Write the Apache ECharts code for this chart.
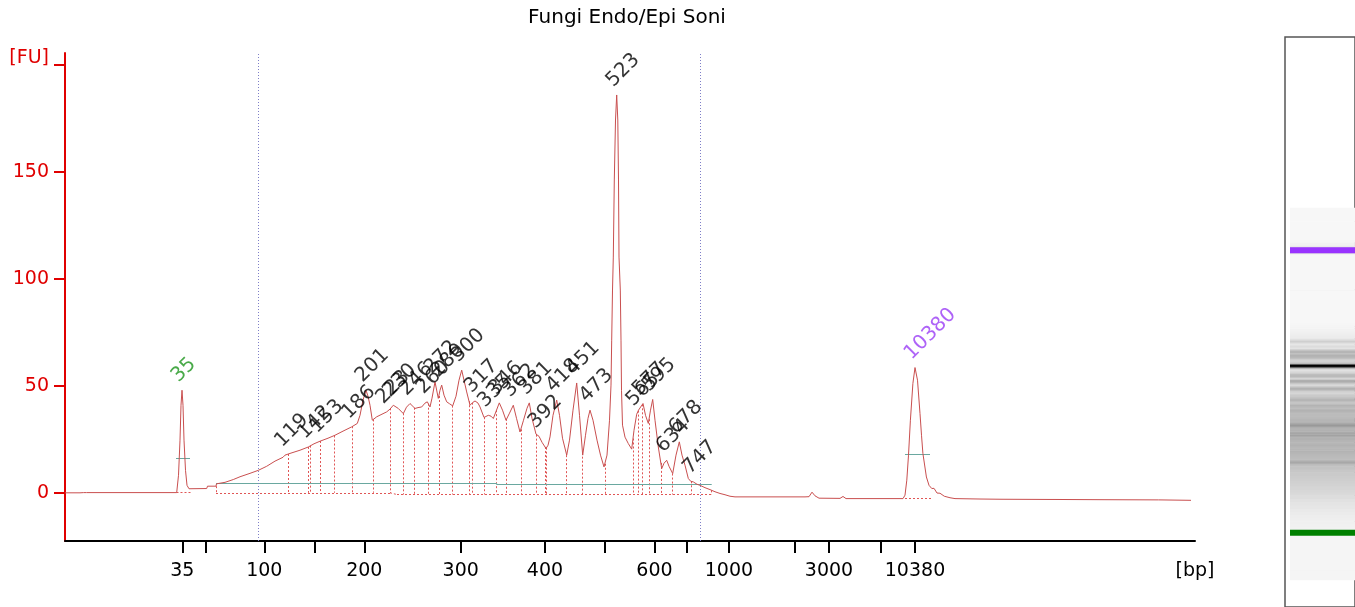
<!DOCTYPE html>
<html><head><meta charset="utf-8">
<script src="https://cdn.jsdelivr.net/npm/echarts@6/dist/echarts.min.js"></script>
<style>html,body{margin:0;padding:0;background:#fff}#c{width:1355px;height:607px}</style>
</head><body><div id="c"></div>
<script>
// ---- data (x = migration time in s, y = fluorescence units) ----
const chartTitle = 'Fungi Endo/Epi Soni';
const ladderBp   = [35, 50, 100, 150, 200, 300, 400, 500, 600, 700, 1000, 2000, 3000, 7000, 10380];
const ladderTime = [31.73, 34.1, 39.93, 44.93, 49.93, 59.57, 68.0, 73.93, 78.95, 82.16, 86.39, 92.99, 96.4, 101.6, 105.0];
const labeledBp  = [35, 100, 200, 300, 400, 600, 1000, 3000, 10380];
const yTicks     = [0, 50, 100, 150, 200];
const regionTime = [39.33, 83.57];

const trace = [
 [20.0,0.2],[21.5,0.2],[21.85,0.3],[22.0,1.1],[22.15,0.3],[31.17,0.3],[31.35,8.4],[31.5,24.8],[31.6,41.1],
 [31.7,48.1],[31.8,41.1],[31.9,24.8],[32.05,10.7],[32.2,3.7],[32.4,2.1],[34.17,2.2],[34.25,3.3],[35.1,3.3],
 [35.15,4.4],[36.0,5.1],[36.83,6.4],[37.5,7.7],[38.5,9.3],[39.33,10.7],[40.17,12.6],[41.0,15.0],[41.8,16.8],
 [42.0,17.8],[42.5,18.6],[43.5,20.1],[44.33,21.6],[44.9,23.1],[45.5,24.3],[46.3,25.7],[47.0,27.1],[47.8,29.0],
 [48.67,31.0],[49.23,32.6],[49.5,36.4],[49.8,43.5],[50.1,48.1],[50.3,45.3],[50.5,41.1],[50.73,34.1],[51.17,35.7],
 [51.6,36.7],[52.17,38.0],[52.5,39.3],[52.83,41.1],[53.33,39.6],[53.83,37.2],[54.15,40.2],[54.5,41.9],[55.0,39.6],
 [55.3,40.0],[55.67,40.3],[56.0,42.1],[56.23,42.7],[56.5,40.3],[56.7,44.4],[57.0,52.0],[57.33,44.3],[57.5,48.1],
 [57.67,50.5],[57.9,45.8],[58.17,42.7],[58.45,41.8],[58.77,40.8],[59.1,45.3],[59.4,52.8],[59.67,57.5],[59.9,52.8],
 [60.17,47.3],[60.5,41.1],[60.75,42.3],[61.0,43.1],[61.3,42.1],[61.5,40.3],[61.9,35.4],[62.33,36.4],[62.6,36.0],
 [62.83,34.9],[63.15,38.8],[63.43,42.2],[63.75,38.8],[64.1,34.1],[64.45,37.4],[64.83,41.1],[65.15,35.0],[65.5,28.6],
 [65.85,34.1],[66.2,39.7],[66.43,42.2],[66.7,35.0],[67.1,27.6],[67.4,26.6],[67.7,23.8],[68.1,20.9],[68.3,22.4],
 [68.5,26.3],[68.8,36.4],[69.17,43.5],[69.45,36.4],[69.75,25.7],[70.17,17.8],[70.45,24.8],[70.8,38.8],[71.17,51.5],
 [71.45,36.4],[71.77,17.8],[72.05,27.1],[72.3,35.0],[72.5,38.8],[72.8,34.1],[73.2,24.8],[73.55,17.8],[73.9,12.3],
 [74.2,17.8],[74.45,34.1],[74.6,50.5],[74.67,71.5],[74.75,94.9],[74.83,110.3],[74.93,146.3],[75.05,174.3],[75.17,186.0],
 [75.28,174.3],[75.35,146.3],[75.4,110.3],[75.53,94.9],[75.6,71.5],[75.65,48.1],[75.75,31.8],[76.0,26.2],[76.33,23.2],
 [76.67,20.6],[76.9,29.4],[77.17,36.9],[77.35,38.8],[77.5,39.7],[77.8,41.9],[78.05,36.4],[78.33,32.6],[78.55,38.8],
 [78.77,43.8],[79.0,34.1],[79.33,21.6],[79.67,11.5],[79.9,14.0],[80.17,15.4],[80.4,12.6],[80.77,9.2],[81.1,17.8],
 [81.43,24.0],[81.7,17.8],[82.0,13.1],[82.33,6.9],[82.57,5.6],[82.83,5.3],[83.2,4.2],[83.5,3.7],[84.0,2.6],
 [84.5,1.7],[85.0,0.7],[85.5,-0.1],[86.0,-0.7],[86.5,-1.4],[87.0,-1.7],[94.0,-1.7],[94.4,-1.6],[94.7,0.5],
 [95.0,-1.2],[95.4,-2.3],[97.5,-2.4],[97.8,-1.5],[98.1,-2.5],[103.8,-2.5],[104.0,-0.9],[104.18,6.1],[104.35,17.8],
 [104.54,34.1],[104.79,51.3],[105.0,58.7],[105.25,52.8],[105.5,37.2],[105.65,27.1],[105.79,18.6],[106.14,7.6],[106.4,3.7],
 [106.68,2.2],[106.9,2.3],[107.2,0.1],[107.5,0.0],[107.93,-1.4],[108.5,-2.1],[109.0,-2.5],[111.5,-2.7],[113.5,-2.8],
 [118.5,-2.9],[118.65,-2.1],[118.8,-2.9],[123.5,-3.0],[129.1,-3.1],[129.2,-2.2],[129.35,-3.1],[132.6,-3.3]
];

const peakBp   = [35, 119, 142, 153, 186, 201, 223, 230, 246, 260, 272, 280, 300, 317, 335, 346, 362, 381, 392, 418, 451, 473, 523, 565, 577, 595, 634, 678, 747, 10380];
const peakTime = [31.7, 42.05, 44.35, 45.55, 48.75, 50.1, 52.17, 52.83, 54.5, 56.2, 57.0, 57.67, 59.67, 61.0, 62.33, 63.43, 64.83, 66.43, 67.4, 69.17, 71.17, 72.5, 75.17, 77.17, 77.8, 78.77, 80.17, 81.43, 82.83, 105.0];
const peakFU   = [48.1, 17.8, 21.6, 24.3, 31.0, 48.1, 38.0, 41.1, 41.9, 42.7, 52.0, 50.5, 57.5, 43.1, 36.4, 42.2, 41.1, 42.2, 26.6, 43.5, 51.5, 38.8, 186.0, 36.9, 41.9, 43.8, 15.4, 24.0, 5.3, 58.7];

const boundaryTime = [35.1, 42.33, 44.33, 44.57, 45.55, 46.93, 48.77, 50.83, 52.57, 53.8, 54.93, 56.33, 57.38, 58.73, 60.4, 60.75, 61.95, 63.15, 64.17, 65.58, 67.17, 68.0, 68.15, 70.17, 71.75, 73.98, 76.8, 77.33, 77.75, 78.4, 79.58, 80.77, 82.58, 84.67];
const dottedBase = [[35.1,0.2],[52.5,0.2],[53.2,-0.6],[84.67,-0.6]];
const tealBase   = [[35.1,4.8],[63.15,4.8],[63.15,4.2],[84.67,4.2]];
const markerTime = [31.7, 105.0];
const markerHalf = [[31.1,32.5,16.4],[104.0,106.5,18.2]];
const markerBase = [[31.15,32.55,0.3],[104.0,106.7,-2.4]];

// ---- helpers ----
function interp(pts, t){
  for (let i=1;i<pts.length;i++){
    if (t<=pts[i][0]){
      const a=pts[i-1], b=pts[i];
      if (b[0]===a[0]) return b[1];
      return a[1]+(b[1]-a[1])*(t-a[0])/(b[0]-a[0]);
    }
  }
  return pts[pts.length-1][1];
}
const RED='#e00000', FONT='DejaVu Sans';
const labeledTime = labeledBp.map(bp=>ladderTime[ladderBp.indexOf(bp)]);
const X_MIN=20, X_MAX=133;

const dottedLines = [];
boundaryTime.forEach(t=>{ dottedLines.push({coords:[[t,interp(trace,t)],[t,interp(dottedBase,t)]]}); });
for (let i=1;i<dottedBase.length;i++) dottedLines.push({coords:[dottedBase[i-1],dottedBase[i]]});
markerBase.forEach(m=>dottedLines.push({coords:[[m[0],m[2]],[m[1],m[2]]]}));
const tealLines = [];
for (let i=1;i<tealBase.length;i++) tealLines.push({coords:[tealBase[i-1],tealBase[i]]});
markerHalf.forEach(m=>tealLines.push({coords:[[m[0],m[2]],[m[1],m[2]]]}));

const peakColor = {35:'#1c951c', 10380:'#9a3cf5'};
const gelMarkerColor = ['#008000', '#9933ff'];
const GEL_TOP_T = 118; // lane signal shown below this time

const chart = echarts.init(document.getElementById('c'), null, {renderer:'canvas'});
chart.setOption({
  animation:false,
  backgroundColor:'#fff',
  title:{text:chartTitle, left:627, top:8, padding:0, textAlign:'center',
         textStyle:{fontFamily:FONT, fontSize:20, fontWeight:'normal', color:'#000'}},
  grid:[
    {left:65, right:160, top:53, bottom:66, containLabel:false},
    {left:1285, right:-5, top:37, bottom:-5, show:true, borderColor:'#555', borderWidth:1.5, backgroundColor:'#fff'}
  ],
  xAxis:[
    {type:'value', gridIndex:0, min:X_MIN, max:X_MAX, splitLine:{show:false},
     axisLine:{onZero:false, lineStyle:{color:'#000', width:2}},
     axisTick:{customValues:ladderTime, length:12, lineStyle:{color:'#000', width:2}},
     axisLabel:{customValues:labeledTime.concat([X_MAX]), margin:21, fontFamily:FONT, fontSize:19, color:'#000',
       formatter:v=>{ if (Math.abs(v-X_MAX)<1e-6) return '[bp]'; const i=ladderTime.findIndex(t=>Math.abs(t-v)<1e-6); return i>=0?String(ladderBp[i]):''; }}},
    {type:'value', gridIndex:1, min:0, max:1, show:false}
  ],
  yAxis:[
    {type:'value', gridIndex:0, min:-22.3, max:205.6, splitLine:{show:false},
     axisLine:{show:true, lineStyle:{color:RED, width:2}},
     axisTick:{show:true, customValues:yTicks, length:11, lineStyle:{color:RED, width:2}},
     axisLabel:{customValues:yTicks, margin:16, fontFamily:FONT, fontSize:19, color:RED,
       formatter:v=> v===200 ? '{fu|[FU]}' : String(v),
       rich:{fu:{fontFamily:FONT, fontSize:19, color:RED, padding:[0,0,13,0]}}}},
    {type:'value', gridIndex:1, min:12.41, max:160.3, show:false}
  ],
  series:[
    {type:'custom', xAxisIndex:1, yAxisIndex:1, data:trace, silent:true, clip:true,
     encode:{x:1, y:0},
     renderItem:(params, api)=>{
       const i=params.dataIndex, t=trace[i][0];
       if (t>GEL_TOP_T) return null;
       const tPrev = i>0 ? (trace[i-1][0]+t)/2 : t-0.5;
       const tNext = i<trace.length-1 ? Math.min(GEL_TOP_T,(trace[i+1][0]+t)/2) : t+0.5;
       const cs=params.coordSys;
       const yA=api.coord([0,tNext])[1], yB=api.coord([0,tPrev])[1];
       const g=Math.max(0, Math.min(247, Math.round(245-1.6*trace[i][1])));
       return {type:'rect', shape:{x:cs.x+5, y:yA, width:cs.width, height:yB-yA+0.6},
               style:{fill:'rgb('+g+','+g+','+g+')'}};
     }},
    {type:'custom', xAxisIndex:1, yAxisIndex:1, data:markerTime, silent:true, z:5,
     encode:{y:0},
     renderItem:(params, api)=>{
       const cs=params.coordSys;
       const y=api.coord([0, markerTime[params.dataIndex]])[1];
       return {type:'rect', shape:{x:cs.x+5, y:y-3, width:cs.width, height:6},
               style:{fill:gelMarkerColor[params.dataIndex]}};
     }},
    {type:'lines', coordinateSystem:'cartesian2d', xAxisIndex:0, yAxisIndex:0, data:dottedLines, silent:true, z:2,
     lineStyle:{color:'#e05555', width:1, type:[2,2], opacity:1}},
    {type:'lines', coordinateSystem:'cartesian2d', xAxisIndex:0, yAxisIndex:0, data:tealLines, silent:true, z:2,
     lineStyle:{color:'#6aa8a0', width:1.2, opacity:1}},
    {type:'line', xAxisIndex:0, yAxisIndex:0, data:trace, showSymbol:false, silent:true, z:3,
     lineStyle:{color:'#c94f4f', width:1},
     markLine:{silent:true, symbol:'none', label:{show:false},
       lineStyle:{color:'#7f7fc8', width:1, type:[1,2]},
       data:regionTime.map(t=>({xAxis:t}))}},
    {type:'scatter', xAxisIndex:0, yAxisIndex:0, symbolSize:2, itemStyle:{color:'rgba(0,0,0,0)'}, silent:true, z:6,
     data:peakBp.map((bp,i)=>({value:[peakTime[i], peakFU[i]], name:String(bp),
        label:{color:peakColor[bp]||'#000'}})),
     labelLayout:{hideOverlap:false},
     label:{show:true, formatter:'{b}', position:'top', distance:3, rotate:45, align:'left', verticalAlign:'bottom',
        offset:[-1,0], fontFamily:FONT, fontSize:20}}
  ]
});
</script></body></html>
